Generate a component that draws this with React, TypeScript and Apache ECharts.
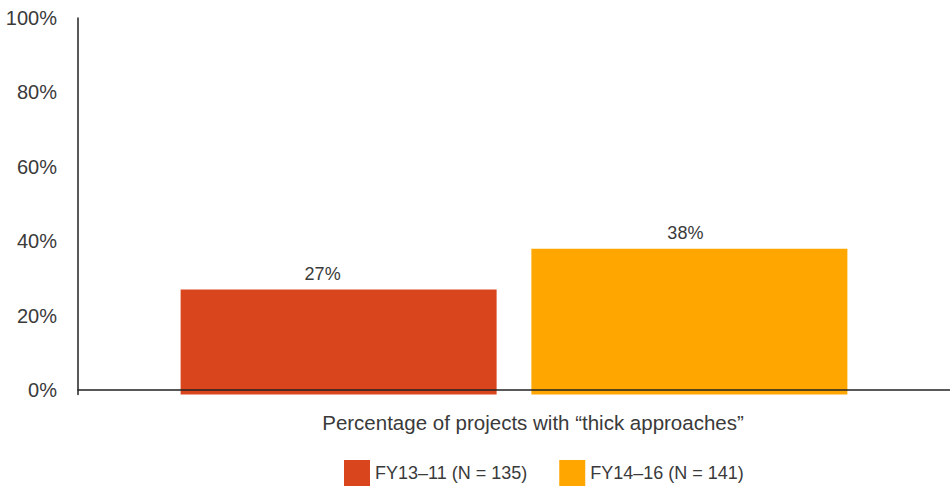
import React, { useEffect, useRef } from "react";
import * as echarts from "echarts";

// Single category, two periods compared side by side
const categories = ["Percentage of projects with \u201cthick approaches\u201d"];
const seriesNames = ["FY13\u201311 (N = 135)", "FY14\u201316 (N = 141)"];
const seriesValues = [[27], [38]];
const seriesColors = ["#D9461E", "#FFA600"];
const yTickLabels = [0, 20, 40, 60, 80, 100];

// Bars sink slightly below the baseline, as in the printed style
const baselineOverhang = -1.2;

const FONT = "'Liberation Sans', Arial, sans-serif";
const TEXT = "#3a3a3a";

export default function App() {
  const ref = useRef<HTMLDivElement>(null);

  useEffect(() => {
    if (!ref.current) return;
    const chart = echarts.init(ref.current, undefined, { renderer: "svg" });

    const mainSeries = seriesNames.map((name, i) => ({
      name,
      type: "bar",
      stack: "s" + i,
      data: seriesValues[i],
      barWidth: 316,
      barGap: "11%",
      itemStyle: { color: seriesColors[i] },
      label: {
        show: true,
        position: "top",
        distance: 7,
        offset: [i === 0 ? -16 : -4, 0],
        formatter: "{c}%",
        fontFamily: FONT,
        fontSize: 18,
        color: TEXT,
      },
    }));

    const overhangSeries = seriesNames.map((name, i) => ({
      name: name + " base",
      type: "bar",
      stack: "s" + i,
      data: seriesValues[i].map(() => baselineOverhang),
      barWidth: 316,
      barGap: "11%",
      itemStyle: { color: seriesColors[i] },
      label: { show: false },
      tooltip: { show: false },
    }));

    chart.setOption({
      animation: false,
      textStyle: { fontFamily: FONT },
      grid: { left: 78, width: 880, top: 18, bottom: 91.5, containLabel: false },
      legend: {
        data: seriesNames,
        left: 344,
        top: 460,
        padding: 0,
        icon: "rect",
        itemWidth: 26,
        itemHeight: 26,
        itemGap: 32,
        textStyle: { fontFamily: FONT, fontSize: 18, color: TEXT },
      },
      xAxis: {
        type: "category",
        data: categories,
        z: 5,
        axisLine: { onZero: true, lineStyle: { color: "#222", width: 1.5 } },
        axisTick: { show: false },
        axisLabel: {
          margin: 17,
          padding: [0, 0, 0, 38],
          fontFamily: FONT,
          fontSize: 20.5,
          color: TEXT,
        },
      },
      yAxis: {
        type: "value",
        min: baselineOverhang,
        max: 100,
        z: 5,
        axisLine: { show: true, lineStyle: { color: "#222", width: 1.5 } },
        axisTick: { show: false },
        splitLine: { show: false },
        axisLabel: {
          customValues: yTickLabels,
          formatter: "{value}%",
          margin: 21,
          fontFamily: FONT,
          fontSize: 20,
          color: TEXT,
        },
      },
      series: [...mainSeries, ...overhangSeries],
    });

    return () => chart.dispose();
  }, []);

  return (
    <div
      ref={ref}
      style={{ position: "fixed", left: 0, top: 0, width: 950, height: 486, background: "#fff" }}
    />
  );
}
